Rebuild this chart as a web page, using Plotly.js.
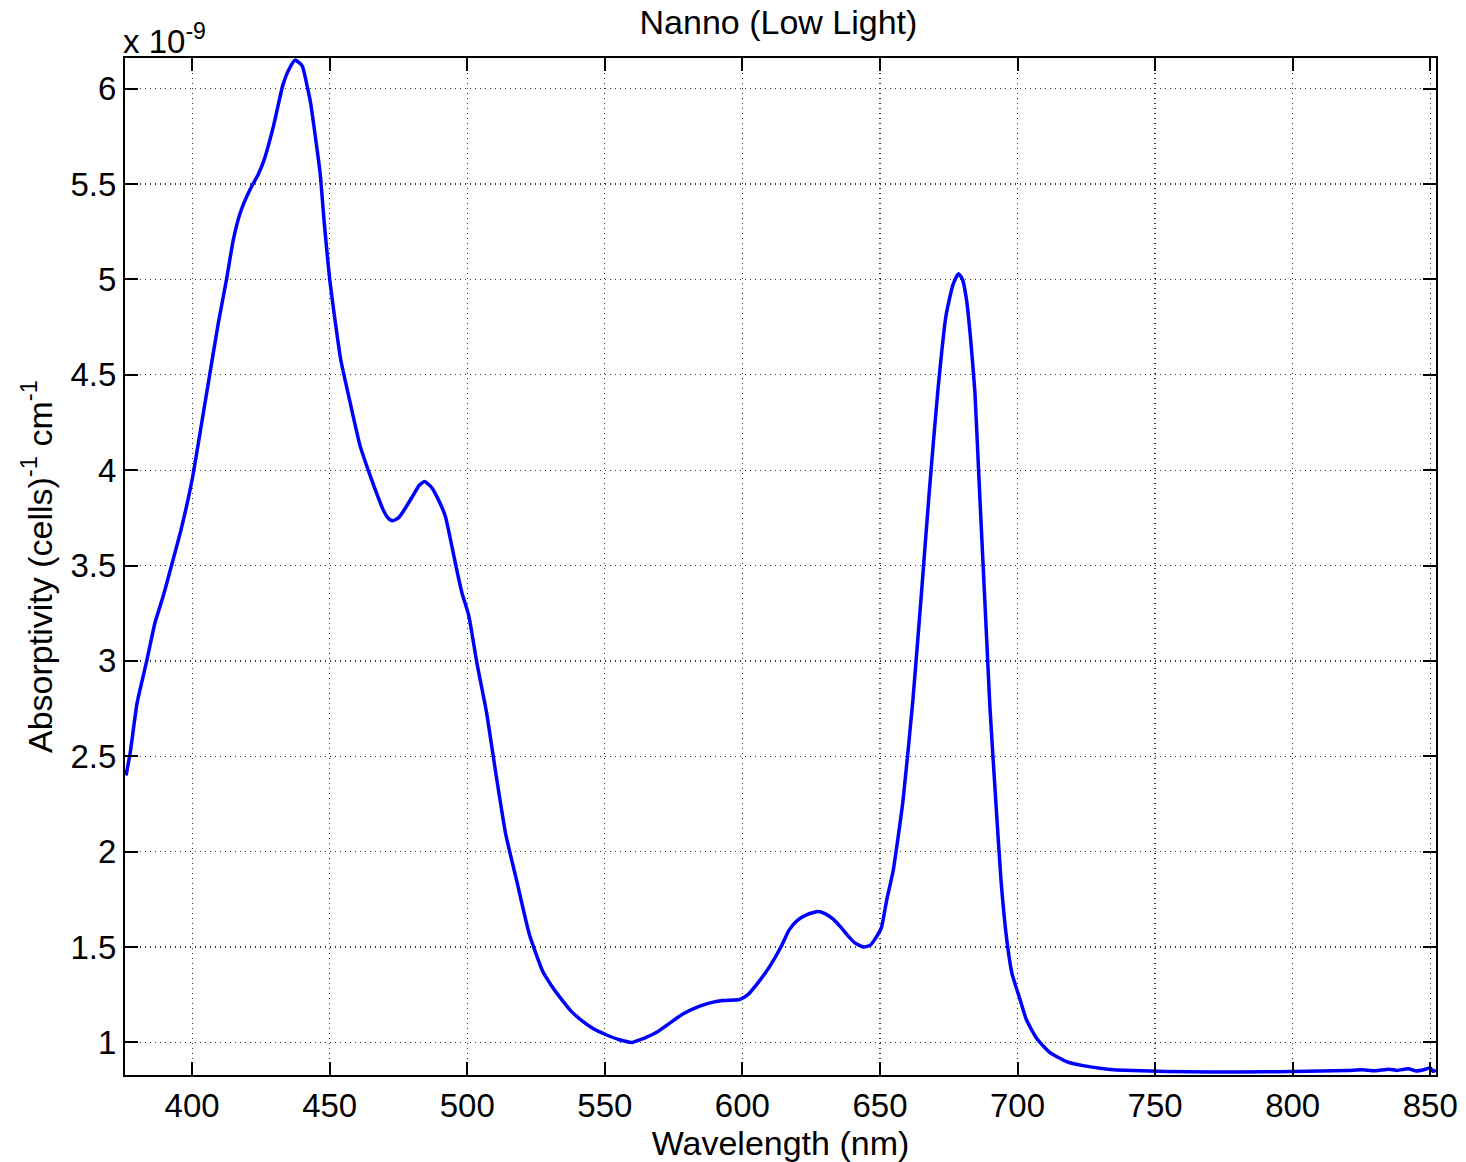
<!DOCTYPE html>
<html>
<head>
<meta charset="utf-8">
<script src="https://cdn.plot.ly/plotly-3.0.1.min.js"></script>
<style>html,body{margin:0;padding:0;background:#fff;}#chart{width:1466px;height:1162px;}</style>
</head>
<body>
<div id="chart"></div>
<script>
// Wavelength (nm)
const wavelength = [376,377.5,380,383.5,386.5,389.5,392.5,396,400,403.5,406.5,409.5,412.5,415,417.5,421,424,426,429.5,433,435.5,437.5,440,442,443,446.5,448,450,452,454,457.5,461,464,466,469.5,471.5,473,475,477,480,482.5,484.5,487,489,492,494,496,498,500.5,503.5,507,510.5,514,518,522.5,527.5,530.5,533.5,538,542,546,550.5,555,560,564,568.5,572.5,578.5,584.5,589,593,599,602,605,610,614,617,620,623.5,627.5,630,633,636,638,641,644,646.5,649,650.5,652.5,654.8,658.4,662,665,668,671,674,676.5,678.5,680,681.5,683,684.5,686,687.5,689,690,692.3,694,696,698,700.8,703.2,707,711.7,717.8,723.8,732,742,754,770,790,800,810,820,825,830,835,838,842,845,848,850,851,852];
// Absorptivity (x 1e-9 (cells)^-1 cm^-1)
const absorptivity = [2.40,2.52,2.78,3.00,3.20,3.34,3.50,3.69,3.95,4.25,4.51,4.77,5.00,5.21,5.35,5.47,5.55,5.62,5.80,6.02,6.11,6.15,6.12,6.00,5.93,5.56,5.30,5.00,4.78,4.58,4.35,4.13,4.00,3.92,3.79,3.745,3.735,3.75,3.79,3.86,3.92,3.94,3.91,3.86,3.76,3.63,3.49,3.36,3.24,2.99,2.73,2.40,2.09,1.845,1.57,1.37,1.30,1.24,1.16,1.11,1.07,1.04,1.015,1.00,1.02,1.05,1.09,1.15,1.19,1.21,1.22,1.225,1.25,1.30,1.40,1.50,1.59,1.64,1.67,1.686,1.675,1.646,1.60,1.565,1.52,1.50,1.51,1.56,1.60,1.75,1.90,2.27,2.80,3.34,3.90,4.41,4.81,4.97,5.03,5.00,4.89,4.68,4.41,3.95,3.50,3.05,2.75,2.22,1.85,1.55,1.36,1.23,1.12,1.02,0.948,0.899,0.878,0.861,0.852,0.848,0.845,0.846,0.847,0.850,0.852,0.856,0.851,0.859,0.853,0.862,0.850,0.858,0.866,0.848,0.855];
const xTicks = [400,450,500,550,600,650,700,750,800,850];
const yTicks = [1,1.5,2,2.5,3,3.5,4,4.5,5,5.5,6];
const yTickText = ["1","1.5","2","2.5","3","3.5","4","4.5","5","5.5","6"];

const FONT = "Liberation Sans, Arial, sans-serif";

const trace = {
  x: wavelength, y: absorptivity, type: 'scatter', mode: 'lines',
  line: {color: '#0000ff', width: 3.5, shape: 'spline', smoothing: 0.5}, hoverinfo: 'skip'
};

const axisCommon = {
  showline: true, linecolor: '#000', linewidth: 2, mirror: 'allticks',
  ticks: 'inside', ticklen: 13, tickwidth: 2, tickcolor: '#000',
  showgrid: true, gridcolor: '#333', gridwidth: 1.2, griddash: '1px,4px',
  zeroline: false, tickfont: {family: FONT, size: 33, color: '#000'}
};

const layout = {
  width: 1466, height: 1162,
  margin: {l: 125, r: 30, t: 58, b: 87, pad: 0},
  paper_bgcolor: '#fff', plot_bgcolor: '#fff',
  showlegend: false,
  title: {text: 'Nanno (Low Light)', font: {family: FONT, size: 34, color: '#000'}, x: 0.531, xanchor: 'center', y: 0.981, yanchor: 'middle'},
  xaxis: Object.assign({}, axisCommon, {
    range: [375.6, 852.1], tickvals: xTicks, ticktext: xTicks.map(String),
    ticklabelstandoff: 0,
    title: {text: 'Wavelength (nm)', font: {family: FONT, size: 34, color: '#000'}, standoff: 0}
  }),
  yaxis: Object.assign({}, axisCommon, {
    range: [0.829, 6.161], tickvals: yTicks, ticktext: yTickText,
    ticklabelstandoff: 0,
    title: {text: 'Absorptivity (cells)<sup>-1</sup> cm<sup>-1</sup>', font: {family: FONT, size: 34, color: '#000'}, standoff: 8}
  }),
  annotations: [{
    text: 'x 10<sup>-9</sup>', xref: 'paper', yref: 'paper', x: 0, y: 1, xanchor: 'left', yanchor: 'bottom',
    showarrow: false, font: {family: FONT, size: 33, color: '#000'}, xshift: -4, yshift: -4
  }]
};

Plotly.newPlot('chart', [trace], layout, {staticPlot: true, displayModeBar: false});
</script>
</body>
</html>
